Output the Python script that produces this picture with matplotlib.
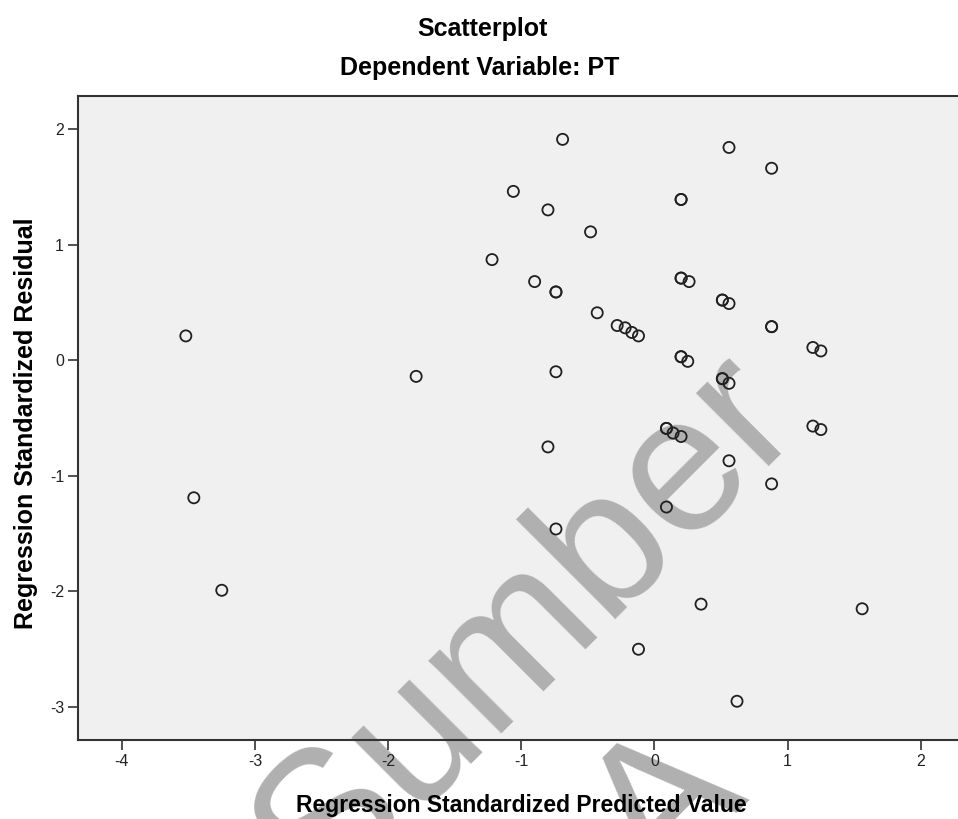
import matplotlib
matplotlib.use("Agg")
import matplotlib.pyplot as plt

# Regression Standardized Predicted Value (x) / Standardized Residual (y)
pred = [-0.69, 0.56, 0.88, -1.06, -0.80, 0.20, 0.20, -0.48, -1.22, -0.90,
        -0.74, -0.74, 0.20, 0.20, 0.26, -0.43, -0.28, -0.22, -0.17, -0.12,
        0.51, 0.51, 0.56, 0.88, 0.88, -3.52, -1.79, -0.74, 0.20, 0.20,
        0.25, 0.51, 0.51, 0.56, 1.19, 1.25, 0.09, 0.09, 0.14, 0.20,
        0.56, 1.19, 1.25, 0.88, -0.80, -3.46, -0.74, 0.09, -3.25, 0.35,
        1.56, -0.12, 0.62]
resid = [1.91, 1.84, 1.66, 1.46, 1.30, 1.39, 1.39, 1.11, 0.87, 0.68,
         0.59, 0.59, 0.71, 0.71, 0.68, 0.41, 0.30, 0.28, 0.24, 0.21,
         0.52, 0.52, 0.49, 0.29, 0.29, 0.21, -0.14, -0.10, 0.03, 0.03,
         -0.01, -0.16, -0.16, -0.20, 0.11, 0.08, -0.59, -0.59, -0.63, -0.66,
         -0.87, -0.57, -0.60, -1.07, -0.75, -1.19, -1.46, -1.27, -1.99, -2.11,
         -2.15, -2.50, -2.95]

xticks = [-4, -3, -2, -1, 0, 1, 2]
yticks = [-3, -2, -1, 0, 1, 2]

plt.rcParams['font.family'] = ['Liberation Sans', 'DejaVu Sans']
plt.rcParams['axes.unicode_minus'] = False

W, H = 958, 819
fig = plt.figure(figsize=(W / 100, H / 100), dpi=100)
ax = fig.add_axes([78 / W, 1 - 740 / H, 1 - 78 / W, (740 - 96) / H])
ax.set_facecolor('#f0f0f0')

ax.scatter(pred, resid, s=64, facecolors='none', edgecolors='#202020',
           linewidths=1.3, zorder=3)

ax.set_xlim(-4.33, 2.28)
ax.set_ylim(-3.285, 2.285)
ax.set_xticks(xticks)
ax.set_yticks(yticks)
ax.tick_params(direction='out', length=7, width=1.2, color='#333333',
               labelsize=11.5, labelcolor='#222222', pad=3)

for side in ['left', 'bottom', 'top']:
    ax.spines[side].set_linewidth(1.5)
    ax.spines[side].set_color('#333333')
ax.spines['right'].set_visible(False)

# axis titles and chart titles
fig.text(521 / W, 1 - 812 / H, 'Regression Standardized Predicted Value',
         ha='center', va='baseline', fontsize=16.5, fontweight='bold')
fig.text(33 / W, 1 - 423 / H, 'Regression Standardized Residual',
         ha='center', va='baseline', rotation=90, rotation_mode='anchor',
         fontsize=18, fontweight='bold')
fig.text(482 / W, 1 - 36 / H, 'Scatterplot', ha='center', va='baseline',
         fontsize=18, fontweight='bold')
fig.text(480 / W, 1 - 75 / H, 'Dependent Variable: PT', ha='center',
         va='baseline', fontsize=18, fontweight='bold')

# watermark
ax.text(322 / W, 1 - 905 / H, 'Sumber', transform=fig.transFigure,
        rotation=45, rotation_mode='anchor', ha='left', va='baseline',
        fontsize=140, color='#b0b0b0', clip_on=False, zorder=1)
ax.text(659 / W, 1 - 891 / H, 'A', transform=fig.transFigure,
        rotation=45, rotation_mode='anchor', ha='left', va='baseline',
        fontsize=140, color='#b0b0b0', clip_on=False, zorder=1)

fig.savefig('out.png', dpi=100)
